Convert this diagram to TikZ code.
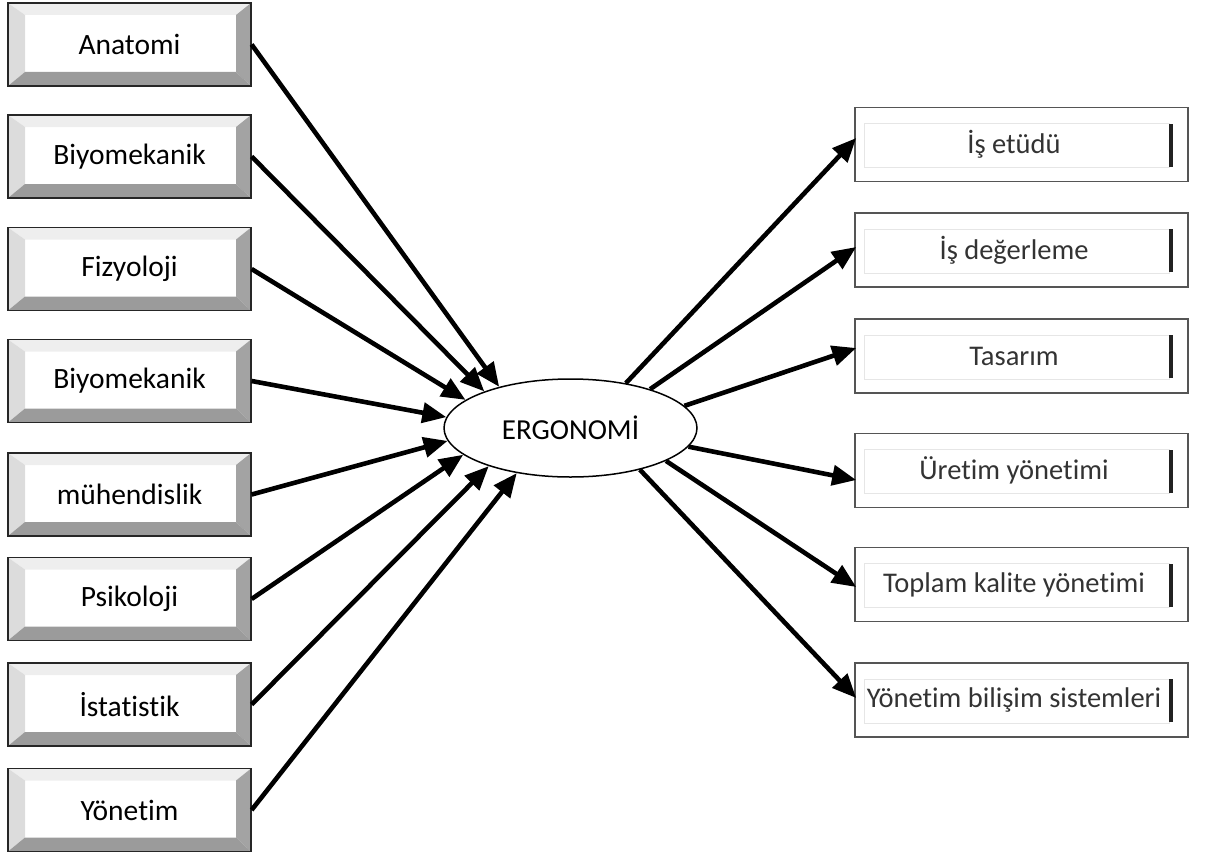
\documentclass[tikz,border=0pt]{standalone}
\usepackage{fontspec}
\setmainfont{Carlito}[Ligatures=NoCommon]
\usetikzlibrary{arrows.meta,shapes.geometric}

\definecolor{bevtop}{HTML}{EEEEEE}
\definecolor{bevleft}{HTML}{DCDCDC}
\definecolor{bevright}{HTML}{A3A3A3}
\definecolor{bevbot}{HTML}{9B9B9B}
\definecolor{frameline}{HTML}{555555}
\definecolor{innerline}{HTML}{E6E6E6}
\definecolor{bartone}{HTML}{222222}

\tikzset{
  % bevelled button on the left
  bevelbox/.style={
    minimum width=243pt, minimum height=83pt, inner sep=0pt,
    draw=black!85, line width=1.2pt,
    font=\fontsize{29.5}{34}\selectfont,
    path picture={
      \coordinate (nw) at (path picture bounding box.north west);
      \coordinate (ne) at (path picture bounding box.north east);
      \coordinate (sw) at (path picture bounding box.south west);
      \coordinate (se) at (path picture bounding box.south east);
      \fill[bevtop] (nw) -- (ne) -- ([xshift=-15pt,yshift=-12pt]ne) -- ([xshift=17pt,yshift=-12pt]nw) -- cycle;
      \fill[bevleft] (nw) -- ([xshift=17pt,yshift=-12pt]nw) -- ([xshift=17pt,yshift=14pt]sw) -- (sw) -- cycle;
      \fill[bevright] (ne) -- (se) -- ([xshift=-15pt,yshift=14pt]se) -- ([xshift=-15pt,yshift=-12pt]ne) -- cycle;
      \fill[bevbot] (sw) -- ([xshift=17pt,yshift=14pt]sw) -- ([xshift=-15pt,yshift=14pt]se) -- (se) -- cycle;
    }},
  % flat field box on the right
  fieldbox/.style={
    minimum width=333pt, minimum height=74pt, inner sep=0pt,
    draw=frameline, line width=1.6pt,
    text=black!80, font=\fontsize{28.5}{34}\selectfont,
    path picture={
      \coordinate (nw) at (path picture bounding box.north west);
      \coordinate (se) at (path picture bounding box.south east);
      \draw[innerline, line width=1pt]
        ([xshift=9pt,yshift=-16pt]nw) rectangle ([xshift=-19pt,yshift=14pt]se);
      \fill[bartone] ([xshift=-19.5pt,yshift=15pt]se) rectangle
        ([xshift=-15pt,yshift=-16pt]se |- nw);
    }},
  hub/.style={ellipse, draw, line width=1.5pt, minimum width=253pt,
    minimum height=98pt, inner sep=0pt, font=\fontsize{29}{34}\selectfont},
  arr/.style={line width=4.6pt, -{Triangle[length=24pt,width=20pt]}}
}

\begin{document}
\begin{tikzpicture}[x=1pt,y=-1pt]
  \useasboundingbox (0,0) rectangle (1206,856);

  % disciplines feeding in
  \node[bevelbox] (l1) at (129.5,44.5)  {Anatomi};
  \node[bevelbox] (l2) at (129.5,156.5) {Biyomekanik};
  \node[bevelbox] (l3) at (129.5,269)   {Fizyoloji};
  \node[bevelbox] (l4) at (129.5,381)   {Biyomekanik};
  \node[bevelbox] (l5) at (129.5,494.5) {mühendislik};
  \node[bevelbox] (l6) at (129.5,599)   {Psikoloji};
  \node[bevelbox] (l7) at (129.5,704.5) {İstatistik};
  \node[bevelbox] (l8) at (129.5,810)   {Yönetim};

  % central hub
  \node[hub] (ergo) at (570.5,428) {ERGONOMİ};

  % application areas
  \node[fieldbox] (r1) at (1021.5,144.5) {\hspace*{-15pt}İş etüdü};
  \node[fieldbox] (r2) at (1021.5,250)   {\hspace*{-15pt}İş değerleme};
  \node[fieldbox] (r3) at (1021.5,356)   {\hspace*{-15pt}Tasarım};
  \node[fieldbox] (r4) at (1021.5,470.5) {\hspace*{-15pt}Üretim yönetimi};
  \node[fieldbox] (r5) at (1021.5,584.5) {\hspace*{-15pt}Toplam kalite yönetimi};
  \node[fieldbox] (r6) at (1021.5,700)   {\hspace*{-15pt}Yönetim bilişim sistemleri};

  % incoming arrows
  \draw[arr] (l1.east) -- (ergo.150.5);
  \draw[arr] (l2.east) -- (ergo.157.9);
  \draw[arr] (l3.east) -- (ergo.165.9);
  \draw[arr] (l4.east) -- (ergo.175.9);
  \draw[arr] (l5.east) -- (ergo.186.6);
  \draw[arr] (l6.east) -- (ergo.194.1);
  \draw[arr] (l7.east) -- (ergo.205.3);
  \draw[arr] (l8.east) -- (ergo.220.1);

  % outgoing arrows
  \draw[arr] (ergo.39)   -- ([xshift=2pt,yshift=6.5pt]r1.west);
  \draw[arr] (ergo.26.1) -- ([xshift=2pt,yshift=3pt]r2.west);
  \draw[arr] (ergo.11.6) -- ([xshift=2pt,yshift=8pt]r3.west);
  \draw[arr] (ergo.-9.3) -- ([xshift=2pt,yshift=-9.5pt]r4.west);
  \draw[arr] (ergo.-19.2) -- ([xshift=2pt,yshift=-2.5pt]r5.west);
  \draw[arr] (ergo.-31.7) -- ([xshift=2pt,yshift=2pt]r6.west);
\end{tikzpicture}
\end{document}
